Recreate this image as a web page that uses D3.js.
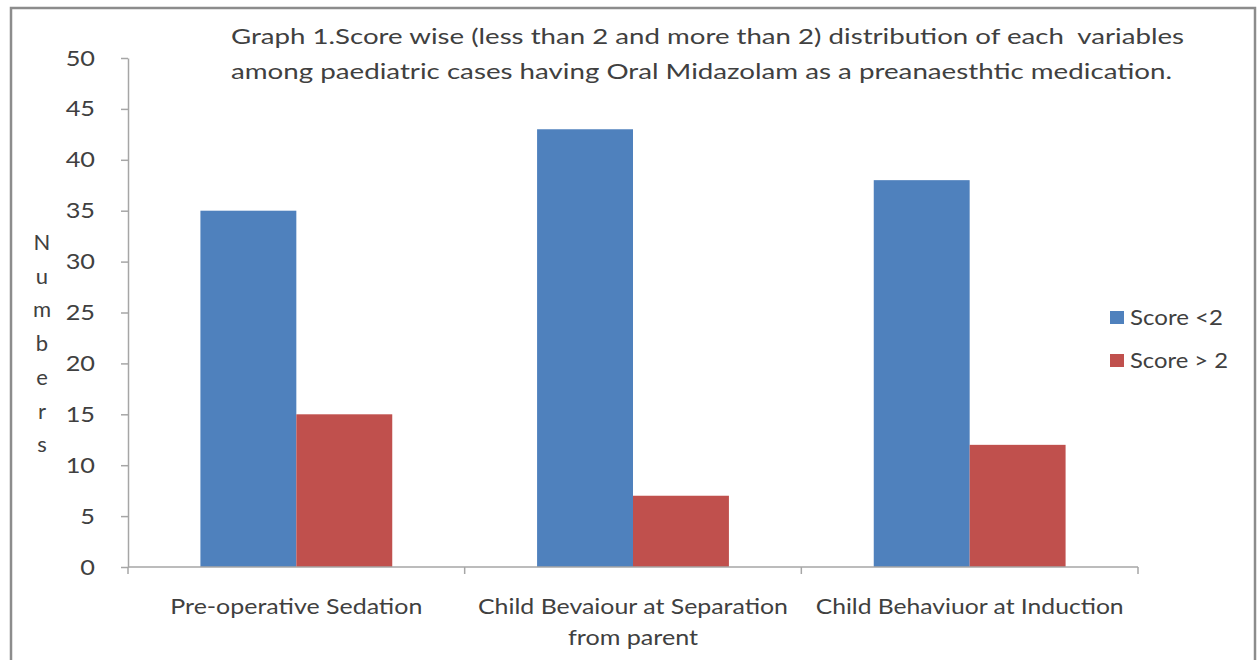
<!DOCTYPE html>
<html>
<head>
<meta charset="utf-8">
<script src="https://cdn.jsdelivr.net/npm/d3@7"></script>
<style>
  html, body { margin: 0; padding: 0; background: #fff; }
  svg { display: block; }
  text { font-family: Lato, "Open Sans", sans-serif; fill: #404040; white-space: pre; }
</style>
</head>
<body>
<svg id="chart" width="1257" height="660"></svg>
<script>
// Data
const categories = [
  ["Pre-operative Sedation"],
  ["Child Bevaiour at Separation", "from parent"],
  ["Child Behaviuor at Induction"]
];
const seriesNames = ["Score <2", "Score > 2"];
const scoreBelow2 = [35, 43, 38];
const scoreAbove2 = [15, 7, 12];
const yTicks = [0, 5, 10, 15, 20, 25, 30, 35, 40, 45, 50];
const titleLines = [
  "Graph 1.Score wise (less than 2 and more than 2) distribution of each  variables",
  "among paediatric cases having Oral Midazolam as a preanaesthtic medication."
];
const yTitle = "Numbers";
const colors = ["#4F81BD", "#C0504D"];

const svg = d3.select("#chart");
const FS = 22;
const WIDE = 1.15; // horizontal set width of the label face

// Stretch a text element horizontally to a given width
function setWidth(node, w) {
  d3.select(node).attr("textLength", w).attr("lengthAdjust", "spacingAndGlyphs");
}
function widen(sel, k) {
  sel.each(function () { setWidth(this, this.getComputedTextLength() * k); });
}

// Outer frame
svg.append("rect")
  .attr("x", 11).attr("y", 8).attr("width", 1244).attr("height", 700)
  .attr("fill", "none").attr("stroke", "#8c8c8c").attr("stroke-width", 2.5);

// Plot area
const plotLeft = 128, plotRight = 1138, plotTop = 58, plotBottom = 567;
const catIds = categories.map((c, i) => i);

const x0 = d3.scaleBand().domain(catIds).range([plotLeft, plotRight]).paddingInner(0).paddingOuter(0);
const x1 = d3.scaleBand().domain(seriesNames).range([0, x0.bandwidth()]).paddingInner(0).paddingOuter(0.755);
const y = d3.scaleLinear().domain([0, 50]).range([plotBottom, plotTop]);

const rows = catIds.map(i => ({ id: i, values: [scoreBelow2[i], scoreAbove2[i]] }));

// Bars
const groups = svg.append("g").selectAll("g").data(rows).join("g")
  .attr("transform", d => `translate(${x0(d.id)},0)`);
groups.selectAll("rect").data(d => d.values.map((v, k) => ({ k, v })))
  .join("rect")
  .attr("x", d => x1(seriesNames[d.k]))
  .attr("width", x1.bandwidth())
  .attr("y", d => y(d.v))
  .attr("height", d => y(0) - y(d.v))
  .attr("fill", d => colors[d.k]);

// Y axis
const yAxis = svg.append("g")
  .attr("transform", `translate(${plotLeft},0)`)
  .call(d3.axisLeft(y).tickValues(yTicks).tickSize(7).tickSizeOuter(0).tickPadding(26));
yAxis.select(".domain").attr("stroke", "#a6a6a6").attr("stroke-width", 1.5);
yAxis.selectAll(".tick line").attr("stroke", "#a6a6a6").attr("stroke-width", 1.5);
yAxis.selectAll(".tick text").attr("font-size", FS).attr("fill", "#404040")
  .attr("font-family", "Lato, 'Open Sans', sans-serif");
widen(yAxis.selectAll(".tick text"), WIDE);

// X axis: ticks at category boundaries
const boundaries = catIds.map(i => x0(i)).concat([plotRight]);
const xAxisG = svg.append("g");
xAxisG.append("line")
  .attr("x1", plotLeft).attr("x2", plotRight).attr("y1", plotBottom).attr("y2", plotBottom)
  .attr("stroke", "#a6a6a6").attr("stroke-width", 1.5);
xAxisG.selectAll("line.tk").data(boundaries).join("line")
  .attr("class", "tk")
  .attr("x1", d => d).attr("x2", d => d)
  .attr("y1", plotBottom).attr("y2", plotBottom + 7)
  .attr("stroke", "#a6a6a6").attr("stroke-width", 1.5);

// Category labels, one text per line
const catLines = rows.flatMap(d => categories[d.id].map((t, j) => ({ id: d.id, line: j, t })));
const catWidths = { "Pre-operative Sedation": 252, "Child Bevaiour at Separation": 310,
                    "from parent": 130, "Child Behaviuor at Induction": 308 };
svg.append("g").selectAll("text").data(catLines).join("text")
  .attr("x", d => x0(d.id) + x0.bandwidth() / 2)
  .attr("y", d => 614 + d.line * 31)
  .attr("text-anchor", "middle")
  .attr("font-size", FS)
  .text(d => d.t)
  .each(function (d) { setWidth(this, catWidths[d.t]); });

// Title, left aligned
const titleWidths = [953, 941];
svg.append("g").selectAll("text").data(titleLines).join("text")
  .attr("x", 231)
  .attr("y", (d, i) => 44 + i * 34.5)
  .attr("font-size", FS)
  .text(d => d)
  .each(function (d, i) { setWidth(this, titleWidths[i]); });

// Y title, letters stacked vertically
svg.append("g").selectAll("text").data(yTitle.split("")).join("text")
  .attr("x", 42)
  .attr("y", (d, i) => 250 + i * 33.7)
  .attr("text-anchor", "middle")
  .attr("font-size", FS)
  .text(d => d);

// Legend
const legend = svg.append("g").selectAll("g").data(seriesNames).join("g")
  .attr("transform", (d, i) => `translate(1110,${311 + i * 43})`);
legend.append("rect")
  .attr("width", 14).attr("height", 13)
  .attr("fill", (d, i) => colors[i]);
const legendWidths = [93, 98];
legend.append("text")
  .attr("x", 20).attr("y", 14)
  .attr("font-size", FS)
  .text(d => d)
  .each(function (d, i) { setWidth(this, legendWidths[i]); });
</script>
</body>
</html>
